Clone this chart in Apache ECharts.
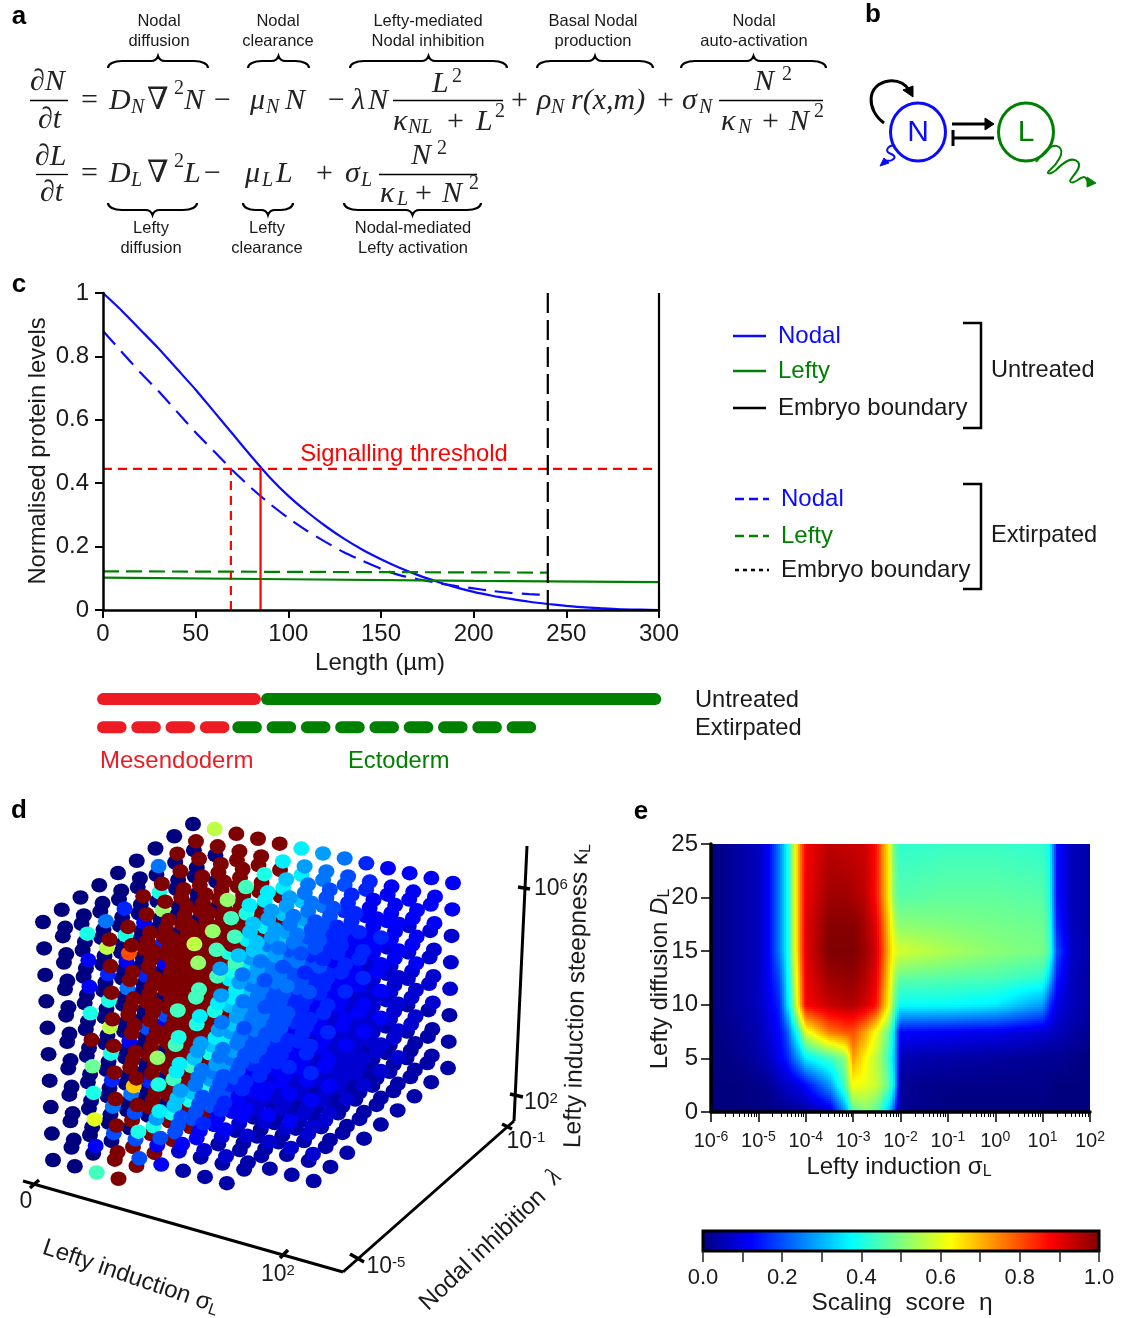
<!DOCTYPE html>
<html><head><meta charset="utf-8">
<style>html,body{margin:0;padding:0;background:#fff}#c{width:1125px;height:1318px}</style>
<script src="https://cdn.jsdelivr.net/npm/echarts@6/dist/echarts.min.js"></script>
</head><body><div id="c"></div>
<script>
// ---------- panel c data ----------
const nodalX      = [0,10,20,30,40,50,60,70,80,90,100,110,120,130,140,150,160,170,180,190,200,210,220,230,240,250,260,270,280,290,300];
const nodalUntreated = [1,.945,.885,.825,.76,.695,.625,.555,.485,.418,.36,.31,.265,.225,.19,.16,.133,.11,.09,.072,.057,.045,.035,.026,.019,.013,.008,.005,.002,.001,0];
const nodalExtX   = [0,10,20,30,40,50,60,70,80,90,100,110,120,130,140,150,160,170,180,190,200,210,220,230,240];
const nodalExtirpated = [.88,.815,.75,.69,.625,.56,.5,.44,.385,.335,.29,.25,.215,.182,.155,.13,.11,.097,.086,.076,.068,.06,.054,.05,.047];
const leftyX      = [0,100,200,300];
const leftyUntreated = [.102,.097,.092,.088];
const leftyExtX   = [0,240];
const leftyExtirpated = [.122,.118];
const thresholdLevel = .445;
const cutUntreated = 85, cutExtirpated = 69, boundaryExt = 240, boundaryUntreated = 300;
const barUntreatedRed = [0,82], barUntreatedGreen = [88.5,298];
const barExtRed = [[0,9.5],[18.5,28],[37,46.5],[55.5,65]];
const barExtGreen = [[73,82.5],[91.5,101],[110,119.5],[128.5,138],[147,156.5],[165.5,175],[184,193.5],[202.5,212],[221,230.5]];
// ---------- panel e data: log10 sigma nodes, D nodes, eta in percent ----------
const heatLogSigma = [-6,-5.5,-5,-4.8,-4.55,-4.4,-4.3,-4.2,-4.12,-4,-3.5,-3.15,-3,-2.75,-2.53,-2.39,-2.23,-2.15,-2.08,-2,-1,0,1,1.15,1.3,1.6,2];
const heatD = [0,2.5,5,7.5,10,12.5,15,17.5,20,25];
const eta_D0  = [0,0,0,0,1,2,2,2,3,3,8,28,45,50,46,40,30,22,10,2,0,0,0,0,0,0,0];
const eta_D2p5= [0,0,1,2,5,7,8,9,10,13,27,47,62,60,57,53,46,38,22,2,1,1,1,1,0,0,0];
const eta_D5  = [0,1,4,6,11,15,20,25,29,36,44,52,72,63,56,51,42,34,22,5,4,3,2,2,2,1,0];
const eta_D7p5= [0,2,5,8,13,20,30,38,45,60,76,80,80,72,62,55,47,38,22,13,12,11,8,7,6,4,2];
const eta_D10 = [0,3,6,10,16,33,43,57,70,88,93,95,95,92,87,75,62,50,42,38,38,36,28,17,10,6,3];
const eta_D12p5=[0,3,6,11,20,35,47,60,72,89,97,98,98,95,90,79,65,56,49,47,46,45,42,32,15,6,3];
const eta_D15 = [0,3,6,11,25,37,50,63,75,90,100,100,100,97,92,82,68,62,59,58,54,51,49,44,20,7,4];
const eta_D17p5=[0,3,6,11,25,37,50,63,75,90,99,99,99,96,90,80,66,58,52,51,50,49,48,42,16,6,4];
const eta_D20 = [0,3,6,11,25,37,50,63,75,89,97,97,96,94,87,76,63,52,47,46,47,47,46,40,14,6,4];
const eta_D25 = [0,3,6,11,25,37,50,63,75,88,94,93,93,92,87,75,63,50,44,42,43,43,42,38,14,6,4];
const heatRows = [eta_D0,eta_D2p5,eta_D5,eta_D7p5,eta_D10,eta_D12p5,eta_D15,eta_D17p5,eta_D20,eta_D25];
// ---------- panel d data: one string per kappa level (top to bottom), one letter per sigma step.
// a=0.00, b=0.04 ... z=1.00; '.' = no point
const etaLetters = 'abcdefghijklmnopqrstuvwxyz';
const lambda0 = ["aakzzzznhgfgf","aadzzzzlhgffe","aadzzzljgffee","aakzzzkhgfeee","aazzznjgfeddd","aamzzkhfedddc","aakzzjfedcccc","aapzkfdccbbbb","aadzfdbbb....","aalz........."];
const lambda1 = ["aagzzzoligfee","aaouzzzlhgfee","aaezzzljhgfee","aakzzzkhgfeed","aaozzlhgfeddd","aakzzjgfedccc","aaerzifedcccb","aagfhfdcbbbbb","aaffdcbbb....","aazz........."];
const lambda2 = ["aaezzznligfee","aakzzzzlhgfee","aadzzzzjgfeed","aagzzzkhgfedd","aazzzzjgfeddc","aadzzihfedccc","aazzlgfdccccb","aagzifdcbbbbb","aazkfdbbb....","aazz........."];
const lambda3 = ["aazzzzlihgfee","aadzzzzihgfee","aazzzzkhgfedd","aaezzzjgfeddd","aazzzzigfedcc","aafzzihfedccc","aazzlgfdcccbb","aaezifdcbbbbb","aazkfdbbb....","aazz........."];
const lambda4 = ["aazzznjhgfeee","aanzzzihgfeed","aazzzkhgfeddd","aadzzjgfedddd","aazzzigfedccc","aafzzhfedcccc","aazzkgedcccbb","aazzhedcbbbbb","aazkfdbbb....","aazz........."];
const lambda5 = ["agzzzljhgfedd","akzzzkhgfeddd","aazzzjgfedddc","aezzzjgfedccc","aazzzifedcccc","aazzzgfdccccc","adzzjfedcccbb","aazzhdccbbbbb","aazkfcbbb....","aazz........."];
const lambda6 = ["azzzzkigfeddd","aazzzjhgfeddd","aazzzjhfedddd","aazzzigfedccc","aazzzhgedcccc","aazzzgfdccccb","aazzifedccbbb","aazzgedccbbbb","aazkfcbbb....","aazz........."];
const lambda7 = ["azzzzjhgfeddd","aazzzjgfedddd","aazzzihfedddc","aazzzigedcccc","aazzzhgedcccc","aazzzgfdccccb","aazzifedccbbb","aazzgedccbbbb","aazkfcbbb....","aazz........."];
const lambda8 = ["aozzzjhgedddd","aazzzjgfedddd","aazzzigeddccc","aazzzifedcccc","aazzzhfdccccc","aazzzgedccbbb","aazzifdccbbbb","aazzgeccbbbbb","aazkecbbb....","aazz........."];
const lambdaLayers = [lambda0,lambda1,lambda2,lambda3,lambda4,lambda5,lambda6,lambda7,lambda8];
const jetStops = [[0,'#00007f'],[.125,'#0000ff'],[.375,'#00ffff'],[.625,'#ffff00'],[.875,'#ff0000'],[1,'#7f0000']];

const SANS = '"Liberation Sans",Arial,sans-serif', SERIF = '"Liberation Serif","DejaVu Serif",serif';
const INK = '#1a1a1a', BLUE = '#0a0aff', GREEN = '#008000', RED = '#ff0000', BARRED = '#ed1c24';

function hex(c){return [1,3,5].map(i=>parseInt(c.substr(i,2),16));}
function jet(v){
  v=Math.max(0,Math.min(1,v));
  for(let i=1;i<jetStops.length;i++){
    if(v<=jetStops[i][0]){
      const t=(v-jetStops[i-1][0])/(jetStops[i][0]-jetStops[i-1][0]);
      const a=hex(jetStops[i-1][1]),b=hex(jetStops[i][1]);
      return 'rgb('+a.map((x,j)=>Math.round(x+(b[j]-x)*t)).join(',')+')';
    }
  }
  return jetStops[5][1];
}
// view of the 3D box on the page (corners: sigma end, lambda end, top/bottom)
const boxTop = {A:[43,922],B:[193,824],C:[453,883],D:[309,992]};
const boxBot = {A:[53,1160],B:[201,1060],C:[446.6,1121],D:[315,1235]};
function project(s,l,k){
  const u=s/12,v=l/8,w=k/9;
  const q=(c)=>[0,1].map(i=>(1-u)*(1-v)*c.A[i]+(1-u)*v*c.B[i]+u*v*c.C[i]+u*(1-v)*c.D[i]);
  const t=q(boxTop),b=q(boxBot);
  return [t[0]+(b[0]-t[0])*w,t[1]+(b[1]-t[1])*w];
}
const cubePts=[];
lambdaLayers.forEach((layer,l)=>layer.forEach((row,k)=>row.split('').forEach((ch,s)=>{
  if(ch==='.')return;
  const eta=etaLetters.indexOf(ch)/25;
  cubePts.push({s,l,k,eta,depth:s+(8-l)+(9-k)*.5});
})));
cubePts.sort((a,b)=>a.depth-b.depth);

// ---------- graphic helpers ----------
const G=[],P=[];
function tx(x,y,text,o){o=o||{};G.push({type:'text',x,y,rotation:o.rot||0,silent:true,z:50,style:{text,fill:o.c||INK,fontFamily:o.ff||SANS,fontSize:o.s||16.5,fontStyle:o.i?'italic':'normal',fontWeight:o.b?'bold':'normal',align:o.a||'center',verticalAlign:'middle',rich:o.rich}});}
function ln(x1,y1,x2,y2,o){o=o||{};G.push({type:'line',silent:true,z:50,shape:{x1,y1,x2,y2},style:{stroke:o.c||'#000',lineWidth:o.w||2,lineDash:o.d||null,lineCap:o.cap||'butt'}});}
function pth(d,o){o=o||{};P.push({d,c:o.c||'#000',w:o.w||2,f:o.f||'none'});}
function brace(x1,x2,y,dir){
  const m=(x1+x2)/2,h=Math.min(14,(x2-x1)/4),a=y-dir*7,t=y-dir*12;
  pth(`M${x1} ${y} C${x1} ${y-dir*4} ${x1+h*.4} ${a} ${x1+h} ${a} L${m-7} ${a} C${m-3} ${a} ${m-1} ${y-dir*9} ${m} ${t} C${m+1} ${y-dir*9} ${m+3} ${a} ${m+7} ${a} L${x2-h} ${a} C${x2-h*.4} ${a} ${x2} ${y-dir*4} ${x2} ${y}`,{w:2.2});
}
const mi=(x,y,t,o)=>tx(x,y,t,Object.assign({ff:SERIF,i:true,s:30,a:'left',c:'#222'},o||{}));
const mr=(x,y,t,o)=>tx(x,y,t,Object.assign({ff:SERIF,s:30,a:'left',c:'#222'},o||{}));
const sb=(x,y,t)=>mi(x,y,t,{s:20});
const sp=(x,y,t)=>mr(x,y,t,{s:20});
// panel letters
[['a',19,17],['b',873,15],['c',19,285],['d',19,811],['e',641,812]].forEach(p=>tx(p[1],p[2],p[0],{s:26,b:true,c:'#000'}));
// panel a labels
[[159,'Nodal','diffusion'],[278,'Nodal','clearance'],[428,'Lefty-mediated','Nodal inhibition'],[593,'Basal Nodal','production'],[754,'Nodal','auto-activation']].forEach(p=>{tx(p[0],21,p[1]);tx(p[0],41,p[2]);});
[[151,'Lefty','diffusion'],[267,'Lefty','clearance'],[413,'Nodal-mediated','Lefty activation']].forEach(p=>{tx(p[0],228,p[1]);tx(p[0],248,p[2]);});
[[108,208],[248,309],[350,507],[537,653],[681,826]].forEach(b=>brace(b[0],b[1],68,1));
[[108,197],[243,293],[344,481]].forEach(b=>brace(b[0],b[1],203,-1));
// equation 1
mi(30,82,'∂N');ln(30,100.5,68,100.5,{w:1.3});mi(38,120,'∂t');mr(81,101,'=');
mi(109,101,'D');sb(131,108,'N');mr(147,101,'∇',{s:31});sp(174,89,'2');mi(184,101,'N');mr(214,101,'−');
mi(250,101,'μ');sb(266,108,'N');mi(285,101,'N');
mr(328,101,'−');mi(352,101,'λ');mi(368,101,'N');
ln(393,100.5,503,100.5,{w:1.3});mi(432,84,'L');sp(452,77,'2');
mi(393,122,'κ');sb(408,128,'NL');mr(447,122,'+');mi(476,122,'L');sp(495,112,'2');
mr(511,101,'+');mi(537,101,'ρ');sb(551,108,'N');mi(571,101,'r(x,m)');
mr(657,101,'+');mi(682,101,'σ');sb(699,108,'N');
ln(719,100.5,823,100.5,{w:1.3});mi(754,82,'N');sp(782,75,'2');
mi(721,122,'κ');sb(738,128,'N');mr(762,122,'+');mi(789,122,'N');sp(814,112,'2');
// equation 2
mi(35,157,'∂L');ln(36,174.5,68,174.5,{w:1.3});mi(40,193,'∂t');mr(81,174,'=');
mi(109,174,'D');sb(131,181,'L');mr(147,174,'∇',{s:31});sp(174,162,'2');mi(184,174,'L');mr(204,174,'−');
mi(245,174,'μ');sb(262,181,'L');mi(276,174,'L');
mr(316,174,'+');mi(345,174,'σ');sb(361,181,'L');
ln(379,174.5,477,174.5,{w:1.3});mi(411,156,'N');sp(437,149,'2');
mi(380,194,'κ');sb(397,200,'L');mr(415,194,'+');mi(442,194,'N');sp(469,184,'2');
// panel b
G.push({type:'ellipse',silent:true,z:50,shape:{cx:918,cy:132,rx:27.5,ry:29},style:{stroke:BLUE,lineWidth:3,fill:'none'}});
G.push({type:'ellipse',silent:true,z:50,shape:{cx:1026,cy:132,rx:27.5,ry:29},style:{stroke:GREEN,lineWidth:3,fill:'none'}});
tx(918,133,'N',{s:30,c:BLUE});tx(1026,133,'L',{s:30,c:GREEN});
pth('M884 123 C866 110 866 84 889 81 C899 80 906 85 910 91',{w:3});
pth('M903 90 L913 86 L913 97 Z',{f:'#000',w:1});
ln(952,124,986,124,{w:3});pth('M985 118 L994 124 L985 130 Z',{f:'#000',w:1});
ln(954,138,994,138,{w:3});ln(953,130,953,146,{w:3});
pth('M895 146 C890 144 884 150 889 153 C894 155 897 157 892 160 C889 162 885 159 886 162',{c:BLUE,w:2});
pth('M880 166 L889 163 L884 158 Z',{c:BLUE,f:BLUE,w:1});
pth('M1036 162 C1044 152 1052 142 1059 147 C1066 152 1056 165 1050 170 C1045 174 1050 175 1056 170 C1064 162 1072 156 1078 162 C1083 168 1070 178 1070 181 C1072 186 1080 177 1084 177 C1087 177 1086 182 1091 183',{c:GREEN,w:2});
pth('M1096 183 L1087 177 L1087 187 Z',{c:GREEN,f:GREEN,w:1});
// panel c legend and labels
tx(404,454,'Signalling threshold',{s:23.8,c:RED});
[[336,BLUE,'Nodal',BLUE],[371,GREEN,'Lefty',GREEN],[408,'#000','Embryo boundary',INK]].forEach(r=>{ln(733,r[0],766,r[0],{c:r[1],w:2.5});tx(778,r[0],r[2],{s:24,c:r[3],a:'left'});});
[[499,BLUE,'Nodal',BLUE,[9,5]],[536,GREEN,'Lefty',GREEN,[9,5]],[570,'#000','Embryo boundary',INK,[4,4]]].forEach(r=>{ln(735,r[0],769,r[0],{c:r[1],w:2.5,d:r[4]});tx(781,r[0],r[2],{s:24,c:r[3],a:'left'});});
pth('M963 323 L981 323 L981 428 L963 428',{w:2.5});tx(991,370,'Untreated',{s:23.6,a:'left'});
pth('M963 484 L981 484 L981 589 L963 589',{w:2.5});tx(991,535,'Extirpated',{s:23.6,a:'left'});
tx(695,700,'Untreated',{s:23.7,a:'left'});tx(695,728,'Extirpated',{s:23.7,a:'left'});
tx(100,761,'Mesendoderm',{s:24,c:BARRED,a:'left'});tx(348,761,'Ectoderm',{s:23.7,c:GREEN,a:'left'});
tx(38,451,'Normalised protein levels',{s:23.8,rot:Math.PI/2});
tx(380,663,'Length (µm)',{s:24});
// panel d axes
ln(23,1181,343,1272,{w:3});ln(343,1272,514,1121,{w:3});ln(514,1121,527,846,{w:3});
[[30,1188,39,1180],[280,1258,288,1250],[350,1254,364,1262],[502,1124,512,1129],[510,1094,523,1097],[518,887,530,889]].forEach(t=>ln(t[0],t[1],t[2],t[3],{w:3.5}));
const supRich={s:{fontSize:15,fontFamily:SANS,fill:INK,verticalAlign:'top',padding:[0,0,9,0]}};
tx(26,1202,'0',{s:23});
tx(278,1275,'10{s|2}',{s:23,rich:supRich});
tx(386,1267,'10{s|-5}',{s:23,rich:supRich});
tx(526,1142,'10{s|-1}',{s:23,rich:supRich});
tx(541,1103,'10{s|2}',{s:23,rich:supRich});
tx(551,889,'10{s|6}',{s:23,rich:supRich});
const subRich={s:{fontSize:16,fontFamily:SANS,fill:INK,verticalAlign:'bottom',padding:[10,0,0,0]}};
tx(131,1277,'Lefty induction σ{s|L}',{s:24,rot:-.33,rich:subRich});
tx(483,1250,'Nodal inhibition',{s:24,rot:.76});
tx(554,1177,'λ',{s:25,ff:SERIF,i:true,rot:.76});
tx(577,996,'Lefty induction steepness κ{s|L}',{s:24.5,rot:Math.PI/2-.025,rich:subRich});
// panel e labels
tx(660,979,'Lefty diffusion {d|D}{s|L}',{s:24,rot:Math.PI/2,rich:{d:{fontSize:24,fontFamily:SANS,fontStyle:'italic',fill:INK},s:subRich.s}});
tx(899,1167,'Lefty induction σ{s|L}',{s:24,rich:subRich});
tx(902,1303,'Scaling  score  η',{s:24.5});

// ---------- series ----------
const zipXY=(xs,ys)=>xs.map((x,i)=>[x,ys[i]]);
const lineS=(data,c,w,dash,smooth)=>({type:'line',xAxisIndex:0,yAxisIndex:0,data,showSymbol:false,symbol:'none',smooth:smooth?.2:false,silent:true,z:3,lineStyle:{color:c,width:w,type:dash||'solid',cap:'butt'}});
const segData=(segs,y)=>{const o=[];segs.forEach(s=>{o.push([s[0],y],[s[1],y],[s[1],'-']);});return o;};
const barS=(data,c)=>({type:'line',xAxisIndex:1,yAxisIndex:1,data,showSymbol:false,symbol:'none',silent:true,connectNulls:false,lineStyle:{color:c,width:12,cap:'round',join:'round'}});

function heatItem(params,api){
  const j=api.value(3),i=api.value(4);
  if(i>=heatLogSigma.length-1||j>=heatD.length-1)return null;
  const p0=api.coord([Math.pow(10,heatLogSigma[i]),heatD[j]]),p1=api.coord([Math.pow(10,heatLogSigma[i+1]),heatD[j+1]]);
  const x0=Math.round(p0[0]),x1=Math.round(p1[0]),y0=Math.round(p0[1]),y1=Math.round(p1[1]);
  const a=heatRows[j][i],b=heatRows[j][i+1],c=heatRows[j+1][i],d=heatRows[j+1][i+1];
  const kids=[],st=2;
  for(let x=x0;x<x1;x+=st)for(let y=y1;y<y0;y+=st){
    const u=(x+1-p0[0])/(p1[0]-p0[0]),v=(y+1-p0[1])/(p1[1]-p0[1]);
    const val=(a*(1-u)*(1-v)+b*u*(1-v)+c*(1-u)*v+d*u*v)/100;
    kids.push({type:'rect',shape:{x,y,width:Math.min(st,x1-x),height:Math.min(st,y0-y)},style:{fill:jet(val)}});
  }
  return {type:'group',children:kids};
}
const heatData=[];
heatRows.forEach((row,j)=>row.forEach((v,i)=>heatData.push([Math.pow(10,heatLogSigma[i]),heatD[j],v,j,i])));

const axisBase=(o)=>Object.assign({axisLine:{show:true,lineStyle:{color:'#000',width:2.5}},axisTick:{show:true,length:8,lineStyle:{color:'#000',width:2}},splitLine:{show:false},z:5},o);
const option={
  animation:false,backgroundColor:'#fff',
  grid:[
    {left:103,top:293,width:556,height:317},
    {left:103,top:689,width:556,height:46},
    {left:711,top:844,width:379,height:268},
    {left:703,top:1231,width:396,height:20},
    {left:0,top:0,width:1125,height:1318}
  ],
  xAxis:[
    axisBase({gridIndex:0,type:'value',min:0,max:300,interval:50,axisLabel:{fontFamily:SANS,fontSize:24,color:INK,margin:12}}),
    {gridIndex:1,type:'value',min:0,max:300,show:false},
    axisBase({gridIndex:2,type:'log',logBase:10,min:1e-6,max:100,interval:1,axisLine:{show:true,onZero:false,lineStyle:{color:'#000',width:3.5}},axisTick:{show:true,length:10,lineStyle:{color:'#000',width:1.5}},minorTick:{show:true,splitNumber:9,length:5,lineStyle:{color:'#000',width:1}},
      axisLabel:{margin:18,fontFamily:SANS,fontSize:20,color:INK,formatter:v=>'10{s|'+Math.round(Math.log10(v))+'}',rich:{s:{fontSize:14,fontFamily:SANS,color:INK,verticalAlign:'top',padding:[0,0,8,0]}}}}),
    axisBase({gridIndex:3,type:'value',min:0,max:1,interval:.1,axisLine:{show:false},axisTick:{show:true,length:11,lineStyle:{color:'#222',width:1.5}},axisLabel:{margin:16,fontFamily:SANS,fontSize:22,color:INK,formatter:v=>{const t=Math.round(v*10);return t%2===0?(t/10).toFixed(1):'';},showMinLabel:true,showMaxLabel:true,hideOverlap:false}}),
    {gridIndex:4,type:'value',min:0,max:1125,show:false}
  ],
  yAxis:[
    axisBase({gridIndex:0,type:'value',min:0,max:1,interval:.2,axisLabel:{fontFamily:SANS,fontSize:24,color:INK,margin:14,formatter:v=>v===0||v===1?String(v):v.toFixed(1)}}),
    {gridIndex:1,type:'value',min:0,max:1,show:false},
    axisBase({gridIndex:2,type:'value',min:0,max:25,interval:5,axisLine:{show:true,lineStyle:{color:'#000',width:3.5}},axisTick:{show:true,length:10,lineStyle:{color:'#000',width:1.5}},axisLabel:{fontFamily:SANS,fontSize:24,color:INK,margin:13}}),
    {gridIndex:3,type:'value',min:0,max:1,show:false},
    {gridIndex:4,type:'value',min:0,max:1318,inverse:true,show:false}
  ],
  graphic:{elements:G},
  series:[
    lineS(zipXY(nodalX,nodalUntreated),BLUE,2.2,null,true),
    lineS(zipXY(nodalExtX,nodalExtirpated),BLUE,2.2,[18,9],true),
    lineS(zipXY(leftyX,leftyUntreated),GREEN,2.2),
    lineS(zipXY(leftyExtX,leftyExtirpated),GREEN,2.2,[16,7]),
    lineS([[0,thresholdLevel],[300,thresholdLevel]],RED,2.2,[9,6]),
    lineS([[cutUntreated,0],[cutUntreated,thresholdLevel]],RED,2.2),
    lineS([[cutExtirpated,0],[cutExtirpated,thresholdLevel]],RED,2.2,[9,6]),
    lineS([[boundaryExt,0],[boundaryExt,1]],'#000',2.2,[20,7]),
    lineS([[boundaryUntreated,0],[boundaryUntreated,1]],'#000',2.2),
    barS([[barUntreatedGreen[0],.78],[barUntreatedGreen[1],.78]],GREEN),
    barS([[barUntreatedRed[0],.78],[barUntreatedRed[1],.78]],BARRED),
    barS(segData(barExtRed,.17),BARRED),
    barS(segData(barExtGreen,.17),GREEN),
    {type:'custom',xAxisIndex:2,yAxisIndex:2,coordinateSystem:'cartesian2d',data:heatData,silent:true,clip:false,z:1,
      encode:{x:0,y:1},renderItem:heatItem},
    {type:'custom',xAxisIndex:3,yAxisIndex:3,coordinateSystem:'cartesian2d',data:[[0,1,0,1]],silent:true,clip:false,z:2,
      renderItem:(p,api)=>{
        const a=api.coord([0,1]),b=api.coord([1,0]);
        return {type:'rect',shape:{x:a[0],y:a[1],width:b[0]-a[0],height:b[1]-a[1]},
          style:{stroke:'#000',lineWidth:3,fill:new echarts.graphic.LinearGradient(0,0,1,0,jetStops.map(s=>({offset:s[0],color:s[1]})))}};
      }},
    {type:'scatter',xAxisIndex:4,yAxisIndex:4,silent:true,symbol:'circle',symbolSize:[16,14.5],z:4,clip:false,
      data:cubePts.map(p=>({value:project(p.s,p.l,p.k),itemStyle:{color:jet(p.eta),opacity:1}}))},
    {type:'custom',xAxisIndex:4,yAxisIndex:4,coordinateSystem:'cartesian2d',silent:true,clip:false,z:50,
      data:P.map((p,i)=>[0,0,i]),encode:{x:0,y:1},
      renderItem:(params,api)=>{const p=P[api.value(2)];return {type:'path',shape:{pathData:p.d},style:{stroke:p.c,lineWidth:p.w,fill:p.f}};}}
  ]
};
const chart=echarts.init(document.getElementById('c'),null,{renderer:'canvas'});
chart.setOption(option);
</script></body></html>
